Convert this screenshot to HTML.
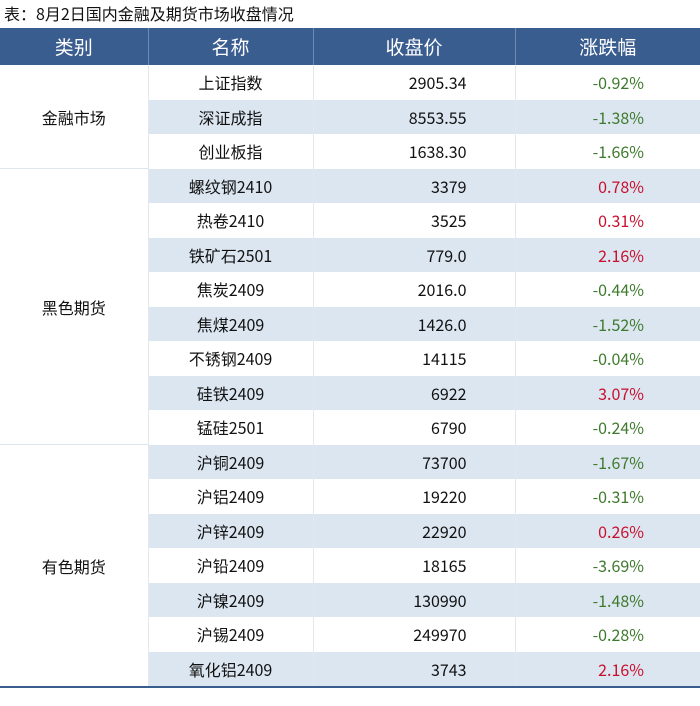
<!DOCTYPE html>
<html><head><meta charset="utf-8"><style>
body{margin:0;width:700px;height:706px;background:#fff;font-family:"Noto Sans CJK SC","Liberation Sans",sans-serif;overflow:hidden}
.title{position:absolute;left:4px;top:2px;font-size:16px;color:#111;line-height:22px}
table{position:absolute;left:0;top:28px;width:700px;border-collapse:collapse;table-layout:fixed}
th{background:#3a5d8f;color:#fff;font-weight:normal;font-size:19px;height:37px;line-height:37px;padding:0;border-left:1px solid #6f8bb3}
th:first-child{border-left:none}
td{height:34.5px;line-height:20px;padding:0;font-size:16px;color:#111;border-left:1px solid #e3e8ef;vertical-align:middle}
td.cat{background:#fff;text-align:center;border-left:none;border-bottom:1px solid #dfe5ee}
tr.b td:not(.cat){background:#dce6f1}
td.n{text-align:center}
td.p{text-align:right;padding-right:48px}
td.c{text-align:right;padding-right:56px}
.g{color:#3e7a2c}.r{color:#c8102e}
tbody tr:last-child td{border-bottom:2px solid #3a5d8f}
td.cat.last{border-bottom:2px solid #3a5d8f}
</style></head><body>
<div class="title">表：8月2日国内金融及期货市场收盘情况</div>
<table>
<colgroup><col style="width:148px"><col style="width:165px"><col style="width:202px"><col style="width:185px"></colgroup>
<thead><tr><th>类别</th><th>名称</th><th>收盘价</th><th>涨跌幅</th></tr></thead>
<tbody>
<tr><td class="cat" rowspan="3">金融市场</td><td class="n">上证指数</td><td class="p">2905.34</td><td class="c g">-0.92%</td></tr>
<tr class="b"><td class="n">深证成指</td><td class="p">8553.55</td><td class="c g">-1.38%</td></tr>
<tr><td class="n">创业板指</td><td class="p">1638.30</td><td class="c g">-1.66%</td></tr>
<tr class="b"><td class="cat" rowspan="8">黑色期货</td><td class="n">螺纹钢2410</td><td class="p">3379</td><td class="c r">0.78%</td></tr>
<tr><td class="n">热卷2410</td><td class="p">3525</td><td class="c r">0.31%</td></tr>
<tr class="b"><td class="n">铁矿石2501</td><td class="p">779.0</td><td class="c r">2.16%</td></tr>
<tr><td class="n">焦炭2409</td><td class="p">2016.0</td><td class="c g">-0.44%</td></tr>
<tr class="b"><td class="n">焦煤2409</td><td class="p">1426.0</td><td class="c g">-1.52%</td></tr>
<tr><td class="n">不锈钢2409</td><td class="p">14115</td><td class="c g">-0.04%</td></tr>
<tr class="b"><td class="n">硅铁2409</td><td class="p">6922</td><td class="c r">3.07%</td></tr>
<tr><td class="n">锰硅2501</td><td class="p">6790</td><td class="c g">-0.24%</td></tr>
<tr class="b"><td class="cat last" rowspan="7">有色期货</td><td class="n">沪铜2409</td><td class="p">73700</td><td class="c g">-1.67%</td></tr>
<tr><td class="n">沪铝2409</td><td class="p">19220</td><td class="c g">-0.31%</td></tr>
<tr class="b"><td class="n">沪锌2409</td><td class="p">22920</td><td class="c r">0.26%</td></tr>
<tr><td class="n">沪铅2409</td><td class="p">18165</td><td class="c g">-3.69%</td></tr>
<tr class="b"><td class="n">沪镍2409</td><td class="p">130990</td><td class="c g">-1.48%</td></tr>
<tr><td class="n">沪锡2409</td><td class="p">249970</td><td class="c g">-0.28%</td></tr>
<tr class="b"><td class="n">氧化铝2409</td><td class="p">3743</td><td class="c r">2.16%</td></tr>
</tbody></table>
</body></html>
